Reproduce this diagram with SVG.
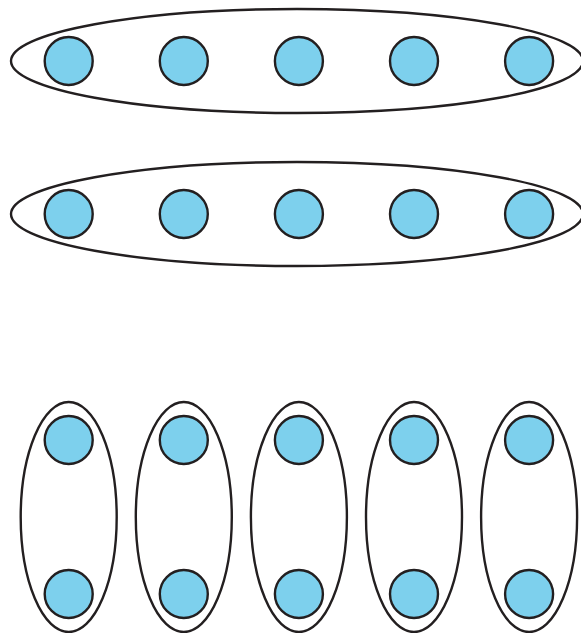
<svg xmlns="http://www.w3.org/2000/svg" width="581" height="633" viewBox="0 0 581 633">
<style>
.g{fill:none;stroke:#231f20;stroke-width:2.4}
.n{fill:#7dd0ed;stroke:#231f20;stroke-width:2.4}
</style>
<rect width="581" height="633" fill="#fff"/>
<g id="group-row1"><ellipse class="g" cx="297" cy="61" rx="286" ry="52"/></g>
<g id="group-row2"><ellipse class="g" cx="297" cy="214" rx="286" ry="52"/></g>
<g id="group-col1"><ellipse class="g" cx="68.7" cy="517" rx="48" ry="115"/></g>
<g id="group-col2"><ellipse class="g" cx="183.8" cy="517" rx="48" ry="115"/></g>
<g id="group-col3"><ellipse class="g" cx="298.9" cy="517" rx="48" ry="115"/></g>
<g id="group-col4"><ellipse class="g" cx="414" cy="517" rx="48" ry="115"/></g>
<g id="group-col5"><ellipse class="g" cx="529.1" cy="517" rx="48" ry="115"/></g>
<g id="n1"><circle class="n" cx="68.7" cy="61" r="24"/></g>
<g id="n2"><circle class="n" cx="183.8" cy="61" r="24"/></g>
<g id="n3"><circle class="n" cx="298.9" cy="61" r="24"/></g>
<g id="n4"><circle class="n" cx="414" cy="61" r="24"/></g>
<g id="n5"><circle class="n" cx="529.1" cy="61" r="24"/></g>
<g id="n6"><circle class="n" cx="68.7" cy="214" r="24"/></g>
<g id="n7"><circle class="n" cx="183.8" cy="214" r="24"/></g>
<g id="n8"><circle class="n" cx="298.9" cy="214" r="24"/></g>
<g id="n9"><circle class="n" cx="414" cy="214" r="24"/></g>
<g id="n10"><circle class="n" cx="529.1" cy="214" r="24"/></g>
<g id="n11"><circle class="n" cx="68.7" cy="440" r="24"/></g>
<g id="n12"><circle class="n" cx="183.8" cy="440" r="24"/></g>
<g id="n13"><circle class="n" cx="298.9" cy="440" r="24"/></g>
<g id="n14"><circle class="n" cx="414" cy="440" r="24"/></g>
<g id="n15"><circle class="n" cx="529.1" cy="440" r="24"/></g>
<g id="n16"><circle class="n" cx="68.7" cy="594" r="24"/></g>
<g id="n17"><circle class="n" cx="183.8" cy="594" r="24"/></g>
<g id="n18"><circle class="n" cx="298.9" cy="594" r="24"/></g>
<g id="n19"><circle class="n" cx="414" cy="594" r="24"/></g>
<g id="n20"><circle class="n" cx="529.1" cy="594" r="24"/></g>
<g id="connectors"></g>
</svg>
